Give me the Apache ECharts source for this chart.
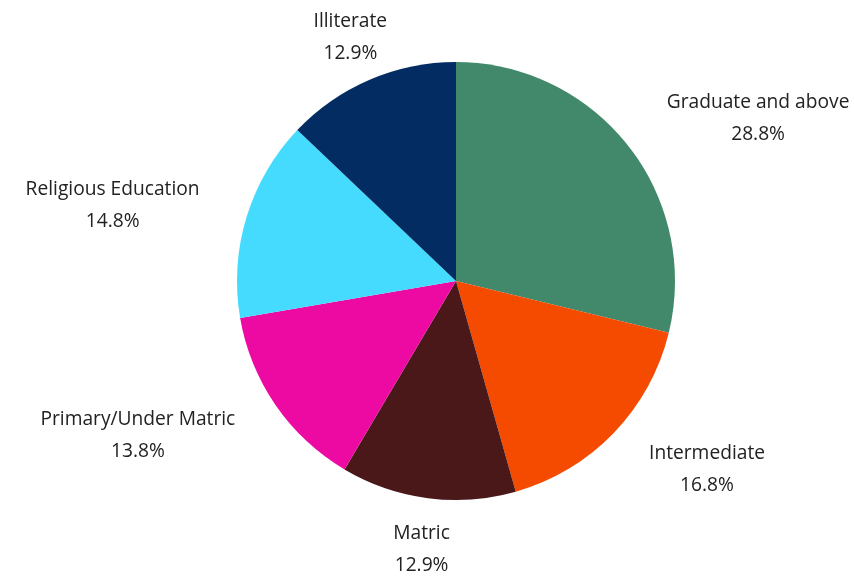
<!DOCTYPE html>
<html>
<head>
<meta charset="utf-8">
<script src="https://cdn.jsdelivr.net/npm/echarts@6/dist/echarts.min.js"></script>
<style>
  html, body { margin: 0; padding: 0; background: #ffffff; }
  #chart { width: 854px; height: 576px; }
</style>
</head>
<body>
<div id="chart"></div>
<script>
// Education level breakdown (percent of respondents)
const categories = [
  'Graduate and above',
  'Intermediate',
  'Matric',
  'Primary/Under Matric',
  'Religious Education',
  'Illiterate'
];
const shares = [28.8, 16.8, 12.9, 13.8, 14.8, 12.9];
const colors = ['#41896a', '#f44b00', '#4a1818', '#ec0aa3', '#44dbfe', '#032d62'];

// Pie geometry
const CX = 456, CY = 281, R = 219, LABEL_R = 268;

const total = shares.reduce((a, b) => a + b, 0);
// Mid angle of each slice, clockwise from 12 o'clock (radians)
const midAngles = [];
let acc = 0;
shares.forEach(v => {
  midAngles.push(((acc + v / 2) / total) * Math.PI * 2);
  acc += v;
});

const chart = echarts.init(document.getElementById('chart'), null, { renderer: 'canvas' });
chart.setOption({
  backgroundColor: '#ffffff',
  animation: false,
  series: [{
    type: 'pie',
    center: [CX, CY],
    radius: [0, R],
    startAngle: 90,
    clockwise: true,
    avoidLabelOverlap: false,
    data: categories.map((name, i) => ({
      name,
      value: shares[i],
      itemStyle: { color: colors[i] }
    })),
    label: {
      show: true,
      position: 'outside',
      formatter: p => p.name + '\n' + p.value.toFixed(1) + '%',
      fontFamily: 'Open Sans',
      fontSize: 19.2,
      lineHeight: 32,
      align: 'center',
      color: '#222222'
    },
    labelLine: { show: false },
    labelLayout: params => {
      const a = midAngles[params.dataIndex];
      const s = Math.sin(a), c = Math.cos(a);
      const w = params.labelRect.width;
      // side labels hug the anchor point; top/bottom labels sit centred on it
      let shift = 0;
      if (Math.abs(s) > 0.5) shift = (s > 0 ? 1 : -1) * w / 2;
      return {
        x: CX + LABEL_R * s + shift,
        y: CY - LABEL_R * c + 3,
        align: 'center',
        verticalAlign: 'middle'
      };
    }
  }]
});
</script>
</body>
</html>
